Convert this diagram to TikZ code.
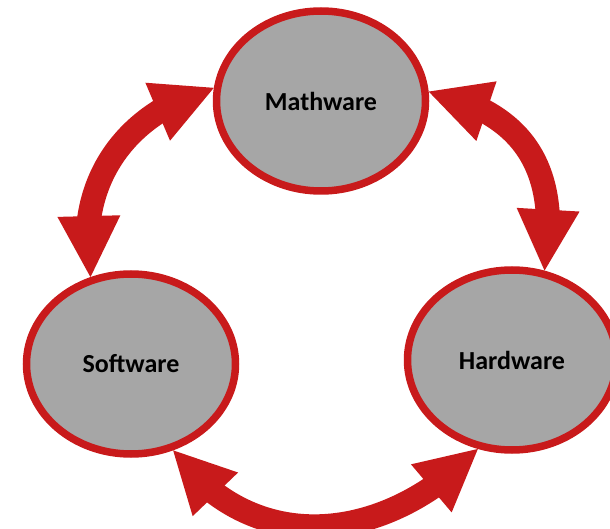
\documentclass[tikz,border=0pt]{standalone}
\usepackage{fontspec}
\setmainfont{Carlito}
\usetikzlibrary{arrows.meta,bending,shapes.geometric}
\definecolor{cred}{RGB}{200,26,27}
\definecolor{cgray}{RGB}{166,166,166}
\begin{document}
\begin{tikzpicture}[x=1pt,y=1pt,
  bubble/.style={ellipse, draw=cred, fill=cgray, line width=7.5pt,
    minimum width=209pt, minimum height=180pt, inner sep=0pt,
    font=\fontsize{26}{30}\selectfont\bfseries},
  bigtip/.tip={Triangle[width=63pt,length=61pt,line width=0pt,flex]},
  link/.style={draw=cred, line width=24pt, bigtip-bigtip}]
\useasboundingbox (0,0) rectangle (610,528);
\node[bubble] (math) at (321,427) {Mathware};
\node[bubble] (soft) at (131,164) {Software};
\node[bubble] (hard) at (512,168) {Hardware};
\draw[link] (math.173) to[out=195,in=100,looseness=1.06] (soft.115);
\draw[link] (math.5) to[out=-12,in=81,looseness=1.2] (hard.70);
\draw[link] (soft.-64) to[out=-54,in=226,looseness=1.12] (hard.249);
\end{tikzpicture}
\end{document}
